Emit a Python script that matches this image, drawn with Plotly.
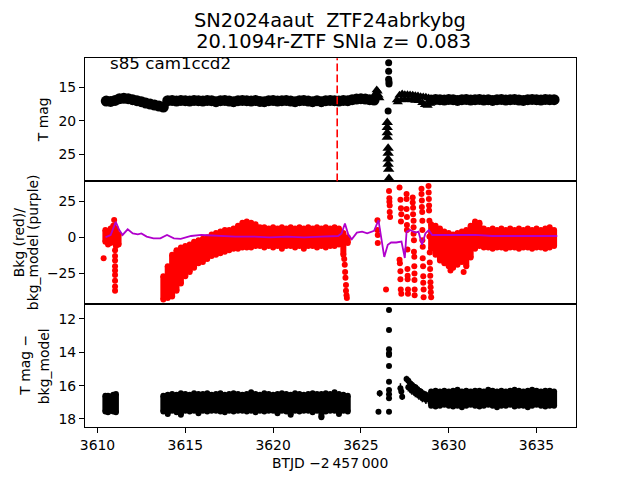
import plotly.graph_objects as go

# ---------------- text ----------------
TITLE_1 = "SN2024aaut  ZTF24abrkybg"
TITLE_2 = " 20.1094r-ZTF SNIa z= 0.083"
FIELD_LABEL = "s85 cam1ccd2"
X_LABEL = "BTJD \u22122\u2009457\u2009000"
Y1_LABEL = "T mag"
Y2_LABEL = ["Bkg (red)/", "bkg_model (purple)"]
Y3_LABEL = ["T mag \u2212", "bkg_model"]
T_REF_LINE = 3623.65

X_TICKS = [3610, 3615, 3620, 3625, 3630, 3635]
Y1_TICKS = [15, 20, 25]
Y2_TICKS = [-25, 0, 25]
Y2_TICKTEXT = ["\u221225", "0", "25"]
Y3_TICKS = [12, 14, 16, 18]

# ---------------- shared time samples ----------------
T_MID = [3613.75, 3614.0, 3614.25, 3614.5, 3614.75, 3615.0, 3615.25, 3615.5, 3615.75, 3616.0,
         3616.25, 3616.5, 3616.75, 3617.0, 3617.25, 3617.5, 3617.75, 3618.0, 3618.25, 3618.5,
         3618.75, 3619.0, 3619.25, 3619.5, 3619.75, 3620.0, 3620.25, 3620.5, 3620.75, 3621.0,
         3621.25, 3621.5, 3621.75, 3622.0, 3622.25, 3622.5, 3622.75, 3623.0, 3623.25, 3623.5,
         3623.75, 3624.0, 3624.25]
T_LATE = [3629.0, 3629.25, 3629.5, 3629.75, 3630.0, 3630.25, 3630.5, 3630.75, 3631.0, 3631.25,
          3631.5, 3631.75, 3632.0, 3632.25, 3632.5, 3632.75, 3633.0, 3633.25, 3633.5, 3633.75,
          3634.0, 3634.25, 3634.5, 3634.75, 3635.0, 3635.25, 3635.5, 3635.75, 3636.0]

# ---------------- panel 1: T mag ----------------
P1_T = [3610.5, 3610.75, 3611.0, 3611.25, 3611.5, 3611.75, 3612.0, 3612.25, 3612.5, 3612.75,
        3613.0, 3613.25, 3613.5, 3613.75, 3614.0, 3614.25, 3614.5, 3614.75, 3615.0, 3615.25,
        3615.5, 3615.75, 3616.0, 3616.25, 3616.5, 3616.75, 3617.0, 3617.25, 3617.5, 3617.75,
        3618.0, 3618.25, 3618.5, 3618.75, 3619.0, 3619.25, 3619.5, 3619.75, 3620.0, 3620.25,
        3620.5, 3620.75, 3621.0, 3621.25, 3621.5, 3621.75, 3622.0, 3622.25, 3622.5, 3622.75,
        3623.0, 3623.25, 3623.5, 3623.75, 3624.0, 3624.25, 3624.5, 3624.75, 3625.0, 3625.25,
        3625.5, 3625.75]
P1_MAG = [17.05, 17.1, 16.95, 16.7, 16.65, 16.7, 16.85, 17.0, 17.15, 17.35,
          17.5, 17.65, 17.8, 17.95, 17.0, 16.95, 17.05, 16.95, 17.0, 17.05,
          16.95, 17.0, 17.05, 16.95, 17.0, 17.15, 17.0, 16.95, 17.05, 17.15,
          17.0, 16.95, 17.0, 17.05, 16.95, 17.1, 17.15, 17.0, 16.95, 17.05,
          17.0, 16.95, 17.05, 17.15, 17.0, 16.95, 17.05, 17.15, 17.0, 17.15,
          17.0, 16.95, 17.0, 17.05, 16.95, 17.0, 16.85, 16.75, 16.7, 16.75,
          16.85, 16.9]
P1_LATE_MAG = [16.9, 16.8, 16.85, 16.9, 16.8, 16.85, 16.95, 16.85, 16.8, 16.9,
               16.85, 16.8, 16.9, 16.85, 16.95, 16.85, 16.8, 16.9, 16.85, 16.8,
               16.9, 16.95, 16.85, 16.8, 16.85, 16.9, 16.8, 16.85, 16.85]
P1_TRI_T = [3625.8, 3625.85, 3625.9, 3625.95, 3626.0, 3626.05,
            3627.05, 3627.2, 3627.35, 3627.5, 3627.65, 3627.8, 3627.95, 3628.1, 3628.25, 3628.4,
            3628.55, 3628.7, 3628.85,
            3627.1, 3627.3, 3627.5, 3627.7, 3627.9, 3628.1, 3628.3, 3628.5, 3628.65, 3628.8, 3628.95]
P1_TRI_MAG = [16.4, 15.9, 15.4, 15.6, 16.2, 16.6,
              16.9, 16.2, 16.0, 16.1, 16.1, 16.15, 16.2, 16.25, 16.3, 16.4,
              16.45, 16.5, 16.6,
              17.2, 16.9, 16.8, 16.85, 16.9, 16.95, 17.0, 17.3, 17.6, 17.7, 17.4]
P1_PEAK_T = [3626.58, 3626.58, 3626.58, 3626.6, 3626.6, 3626.55]
P1_PEAK_MAG = [11.35, 12.6, 13.8, 14.2, 14.5, 18.55]
P1_LIM_T = [3626.5, 3626.5, 3626.5, 3626.5, 3626.55, 3626.55, 3626.55, 3626.55, 3626.58, 3626.6]
P1_LIM_MAG = [20.25, 21.0, 21.8, 22.45, 24.1, 24.85, 25.7, 26.5, 27.25, 28.6]

# ---------------- panel 2: background ----------------
P2_EARLY_T = [3610.45, 3610.6, 3610.75, 3610.9, 3611.05, 3611.2]
P2_EARLY_HI = [5, 4, 6, 8, 6, 2]
P2_EARLY_LO = [-3, -5, -4, -3, -6, -5]
P2_MID_HI = [-27, -20, -12, -9, -7, -6, -5, -3, -2, -1,
             0, 2, 3, 4, 5, 5, 6, 8, 10, 11,
             10, 9, 7, 7, 6, 7, 6, 7, 6, 7,
             6, 7, 6, 7, 6, 7, 6, 7, 6, 7,
             6, 3, 0]
P2_MID_LO = [-43, -42, -41, -37, -32, -27, -24, -21, -18, -17,
             -15, -13, -12, -11, -10, -9, -8, -8, -7, -7,
             -7, -6, -6, -7, -6, -7, -6, -8, -6, -6,
             -7, -6, -8, -6, -6, -7, -6, -7, -6, -6,
             -5, -12, -4]
P2_LATE_HI = [9, 8, 6, 4, 3, 2, 3, 4, 5, 8,
              11, 10, 6, 5, 6, 5, 6, 5, 6, 5,
              6, 5, 6, 5, 6, 5, 6, 7, 5]
P2_LATE_LO = [-8, -12, -16, -18, -20, -21, -19, -17, -20, -14,
              -8, -6, -7, -7, -8, -7, -7, -8, -7, -7,
              -8, -7, -7, -8, -7, -7, -8, -7, -6]
P2_PT_T = [3610.35, 3610.95, 3611.0, 3611.0, 3611.0, 3611.0, 3611.0, 3611.0, 3611.0, 3611.0, 3611.0,
           3624.05, 3624.08, 3624.1, 3624.12, 3624.15, 3624.15, 3624.18, 3624.2,
           3630.1, 3630.85,
           3625.94, 3625.94, 3625.96, 3625.96, 3626.43,
           3626.6, 3626.62, 3626.62, 3626.64, 3626.64, 3626.66,
           3627.2, 3627.25, 3627.28, 3627.3, 3627.28, 3627.2, 3627.22, 3627.25, 3627.25, 3627.27, 3627.3,
           3627.6, 3627.6, 3627.6, 3627.62, 3627.62, 3627.62, 3627.65, 3627.65, 3627.66, 3627.66, 3627.68, 3627.68,
           3627.95, 3627.95, 3627.97, 3627.97, 3628.0, 3628.0, 3628.0, 3628.02, 3628.02, 3628.04, 3628.04,
           3628.05, 3628.05, 3628.06, 3628.06,
           3628.45, 3628.45, 3628.47, 3628.47, 3628.49, 3628.5, 3628.5, 3628.5, 3628.52, 3628.52, 3628.54,
           3628.55, 3628.55, 3628.57, 3628.57,
           3628.85, 3628.86, 3628.87, 3628.88, 3628.88, 3628.9, 3628.9, 3628.92, 3628.92, 3628.94, 3628.95,
           3628.96, 3628.97, 3628.98, 3629.0]
P2_PT_V = [-14.5, 12, -9, -13, -16, -20, -23, -26, -30, -34, -37,
           -15, -19, -24, -28, -33, -37, -40, -42,
           -23, -24,
           11.8, 5.0, 1.5, -4.0, -36.0,
           32.0, 27.0, 24.5, 22.0, 17.5, 14.0,
           34.5, 26.0, 20.0, 16.0, 11.0, -15.5, -18.0, -23.5, -29.0, -36.0, -39.0,
           30.0, 26.5, 19.5, 14.0, 8.5, 5.0, -8.5, -22.0, -26.5, -29.0, -36.0, -39.0,
           27.5, 24.0, 20.5, 16.0, 11.5, 7.0, 2.5, -2.0, -10.0, -13.5, -20.0,
           -25.0, -29.5, -36.0, -40.0,
           33.5, 30.0, 25.5, 21.0, 17.5, 11.5, 5.0, -2.0, -6.5, -14.5, -20.0,
           -27.0, -31.5, -36.0, -41.5,
           35.5, 31.0, 26.5, 22.0, 18.5, 11.5, 0.5, -10.5, -17.5, -22.0, -26.5,
           -31.0, -34.5, -38.0, -41.5]
P2_MODEL_T = [3610.46, 3610.75, 3611.04, 3611.24, 3611.43, 3611.72, 3612.01, 3612.3, 3612.5, 3612.8,
              3613.19, 3613.58, 3613.96, 3614.35, 3614.74, 3615.33, 3615.91, 3616.88, 3617.86, 3618.83,
              3619.81, 3620.78, 3621.76, 3622.73, 3623.7, 3623.9, 3624.09, 3624.29, 3624.48, 3624.77,
              3625.07, 3625.36, 3625.75, 3626.0, 3626.14, 3626.33, 3626.53, 3626.72, 3627.01, 3627.31,
              3627.5, 3627.6, 3627.8, 3628.09, 3628.28, 3628.48, 3628.67, 3628.87, 3629.06, 3629.55,
              3630.52, 3631.5, 3632.47, 3633.45, 3634.43, 3635.4, 3636.18]
P2_MODEL_V = [0.0, 1.6, 10.7, 5.0, 1.6, 5.5, 2.7, 2.0, 2.7, 0.5,
              -0.7, -0.7, 1.6, -0.7, -1.1, 0.9, 1.6, 0.9, 0.5, 0.5,
              0.0, 0.5, 0.0, 0.5, 0.9, 2.7, 9.5, 1.6, -1.4, 3.2,
              3.9, 2.7, 4.5, 11.8, 0.5, -13.6, -5.2, -3.6, -3.6, -3.0,
              -14.3, 3.9, 5.0, 3.2, 3.9, -5.2, 2.7, 5.0, 1.6, 1.6,
              1.1, 1.6, 0.9, 1.1, 0.9, 0.9, 0.9]

# ---------------- panel 3: T mag - bkg_model ----------------
P3_EARLY_T = [3610.45, 3610.6, 3610.75, 3610.9, 3611.05]
P3_EARLY_LO = [16.6, 16.6, 16.65, 16.55, 16.5]
P3_EARLY_HI = [17.55, 17.6, 17.5, 17.55, 17.6]
P3_MID_LO = [16.6, 16.55, 16.5, 16.55, 16.45, 16.5, 16.55, 16.45, 16.5, 16.5,
             16.45, 16.55, 16.5, 16.45, 16.55, 16.5, 16.45, 16.5, 16.55, 16.5,
             16.4, 16.5, 16.55, 16.45, 16.5, 16.55, 16.5, 16.45, 16.5, 16.55,
             16.45, 16.5, 16.55, 16.5, 16.45, 16.5, 16.5, 16.45, 16.5, 16.4,
             16.5, 16.55, 16.6]
P3_MID_HI = [17.55, 17.7, 17.5, 17.6, 17.75, 17.5, 17.55, 17.5, 17.65, 17.5,
             17.55, 17.5, 17.5, 17.55, 17.6, 17.5, 17.55, 17.5, 17.5, 17.55,
             17.5, 17.6, 17.5, 17.55, 17.5, 17.5, 17.65, 17.5, 17.55, 17.75,
             17.5, 17.55, 17.5, 17.5, 17.6, 17.5, 17.9, 17.55, 17.5, 17.5,
             17.7, 17.5, 17.55]
P3_LATE_LO = [16.35, 16.3, 16.35, 16.3, 16.35, 16.3, 16.25, 16.35, 16.3, 16.35,
              16.3, 16.3, 16.35, 16.25, 16.3, 16.35, 16.3, 16.35, 16.3, 16.25,
              16.3, 16.35, 16.3, 16.25, 16.3, 16.35, 16.3, 16.3, 16.35]
P3_LATE_HI = [17.2, 17.25, 17.2, 17.15, 17.2, 17.25, 17.2, 17.3, 17.2, 17.15,
              17.2, 17.25, 17.2, 17.15, 17.2, 17.3, 17.2, 17.2, 17.15, 17.25,
              17.2, 17.2, 17.3, 17.2, 17.15, 17.2, 17.25, 17.2, 17.2]
P3_PT_T = [3626.07, 3626.0,
           3626.6, 3626.6, 3626.6, 3626.6, 3626.6, 3626.6, 3626.6, 3626.6, 3626.6, 3626.6, 3626.6,
           3627.25, 3627.3, 3627.35,
           3627.6, 3627.7, 3627.8, 3627.9, 3628.0, 3628.1, 3628.2, 3628.3, 3628.4, 3628.5, 3628.6, 3628.7,
           3627.7, 3627.9, 3628.1, 3628.3, 3628.5, 3628.7, 3628.85]
P3_PT_V = [16.46, 17.56,
           11.46, 12.66, 13.82, 14.06, 14.16, 14.82, 15.76, 16.26, 16.52, 16.76, 17.56,
           16.16, 16.35, 16.66,
           15.6, 15.7, 15.85, 15.95, 16.05, 16.1, 16.2, 16.3, 16.35, 16.45, 16.5, 16.55,
           16.1, 16.3, 16.45, 16.6, 16.75, 16.85, 16.8]
P3_PT_ERR = [0.2, 0.1,
             0.05, 0.05, 0.05, 0.05, 0.05, 0.08, 0.1, 0.1, 0.12, 0.12, 0.12,
             0.3, 0.25, 0.2,
             0.2, 0.2, 0.2, 0.2, 0.2, 0.2, 0.2, 0.2, 0.2, 0.2, 0.2, 0.2,
             0.25, 0.25, 0.25, 0.25, 0.25, 0.25, 0.3]

# ---------------- figure ----------------
FONT = "DejaVu Sans"
BLACK = "#000000"
RED = "#ff0000"
PURPLE = "#b000cc"

fig = go.Figure()


def band(t, lo, hi, color, size, xa, ya):
    n = len(t)
    fig.add_trace(go.Scatter(
        x=t, y=lo, mode="markers", xaxis=xa, yaxis=ya,
        marker=dict(size=size, color=color, line=dict(width=0)),
        error_y=dict(type="data", symmetric=False,
                     array=[h - l for h, l in zip(hi, lo)], arrayminus=[0] * n,
                     thickness=size, width=0, color=color),
        showlegend=False, hoverinfo="skip"))
    fig.add_trace(go.Scatter(
        x=t, y=hi, mode="markers", xaxis=xa, yaxis=ya,
        marker=dict(size=size, color=color, line=dict(width=0)),
        showlegend=False, hoverinfo="skip"))


# panel 1
fig.add_trace(go.Scatter(x=P1_T, y=P1_MAG, mode="markers", xaxis="x", yaxis="y",
                         marker=dict(size=11, color=BLACK), showlegend=False))
fig.add_trace(go.Scatter(x=T_LATE, y=P1_LATE_MAG, mode="markers", xaxis="x", yaxis="y",
                         marker=dict(size=11, color=BLACK), showlegend=False))
fig.add_trace(go.Scatter(x=P1_TRI_T, y=P1_TRI_MAG, mode="markers", xaxis="x", yaxis="y",
                         marker=dict(size=9, color=BLACK, symbol="triangle-up"), showlegend=False))
fig.add_trace(go.Scatter(x=P1_PEAK_T, y=P1_PEAK_MAG, mode="markers", xaxis="x", yaxis="y",
                         marker=dict(size=7, color=BLACK), showlegend=False))
fig.add_trace(go.Scatter(x=P1_LIM_T, y=P1_LIM_MAG, mode="markers", xaxis="x", yaxis="y",
                         marker=dict(size=10, color=BLACK, symbol="triangle-up"), showlegend=False))

# panel 2
band(P2_EARLY_T, P2_EARLY_LO, P2_EARLY_HI, RED, 6, "x2", "y2")
band(T_MID, P2_MID_LO, P2_MID_HI, RED, 6, "x2", "y2")
band(T_LATE, P2_LATE_LO, P2_LATE_HI, RED, 6, "x2", "y2")
fig.add_trace(go.Scatter(x=P2_PT_T, y=P2_PT_V, mode="markers", xaxis="x2", yaxis="y2",
                         marker=dict(size=6, color=RED), showlegend=False))
fig.add_trace(go.Scatter(x=P2_MODEL_T, y=P2_MODEL_V, mode="lines", xaxis="x2", yaxis="y2",
                         line=dict(color=PURPLE, width=1.8), showlegend=False))

# panel 3
band(P3_EARLY_T, P3_EARLY_LO, P3_EARLY_HI, BLACK, 6, "x3", "y3")
band(T_MID, P3_MID_LO, P3_MID_HI, BLACK, 6, "x3", "y3")
band(T_LATE, P3_LATE_LO, P3_LATE_HI, BLACK, 6, "x3", "y3")
fig.add_trace(go.Scatter(x=P3_PT_T, y=P3_PT_V, mode="markers", xaxis="x3", yaxis="y3",
                         marker=dict(size=6, color=BLACK),
                         error_y=dict(type="data", array=P3_PT_ERR, thickness=1.5, width=0, color=BLACK),
                         showlegend=False))

XRANGE = [3609.29, 3637.24]
XDOM = [0.126, 0.899]
axis_common = dict(showline=True, mirror=True, linecolor=BLACK, linewidth=1, showgrid=False,
                   zeroline=False, tickfont=dict(family=FONT, size=13.9, color=BLACK),
                   ticks="outside", ticklen=5, tickwidth=1, tickcolor=BLACK)

fig.update_layout(
    width=640, height=480, autosize=False,
    margin=dict(l=0, r=0, t=0, b=0),
    paper_bgcolor="white", plot_bgcolor="white",
    font=dict(family=FONT, color=BLACK),
    xaxis=dict(domain=XDOM, range=XRANGE, anchor="y", showticklabels=False,
               showline=True, mirror=True, linecolor=BLACK, linewidth=1, showgrid=False, zeroline=False,
               ticks=""),
    xaxis2=dict(domain=XDOM, range=XRANGE, anchor="y2", showticklabels=False,
                showline=True, mirror=True, linecolor=BLACK, linewidth=1, showgrid=False, zeroline=False,
                ticks=""),
    xaxis3=dict(domain=XDOM, range=XRANGE, anchor="y3", tickvals=X_TICKS, **axis_common),
    yaxis=dict(domain=[0.6223, 0.8785], range=[29.03, 10.67], anchor="x", tickvals=Y1_TICKS,
               **axis_common),
    yaxis2=dict(domain=[0.3667, 0.6223], range=[-46.1, 38.7], anchor="x2", tickvals=Y2_TICKS,
                ticktext=Y2_TICKTEXT, **axis_common),
    yaxis3=dict(domain=[0.1098, 0.3667], range=[18.5, 11.1], anchor="x3", tickvals=Y3_TICKS,
                **axis_common),
)

fig.add_shape(type="line", xref="x", yref="y domain", x0=T_REF_LINE, x1=T_REF_LINE, y0=0, y1=1,
              line=dict(color=RED, width=1.6, dash="7.7px,3.3px"))


def ann(text, x, y, size, xanchor="center", yanchor="middle", angle=0):
    fig.add_annotation(text=text, x=x, y=y, xref="paper", yref="paper", showarrow=False,
                       xanchor=xanchor, yanchor=yanchor, textangle=angle,
                       font=dict(family=FONT, size=size, color=BLACK))


ann(TITLE_1, 328 / 640, 1 - 20.3 / 480, 19.4)
ann(TITLE_2, 328 / 640, 1 - 41.3 / 480, 19.4)
ann(FIELD_LABEL, 104 / 640, 1 - 63.2 / 480, 16.7, xanchor="left")
ann(X_LABEL, 328 / 640, 1 - 463.2 / 480, 13.9)
ann(Y1_LABEL, 38.5 / 640, 1 - 120 / 480, 13.9, angle=-90)
ann(Y2_LABEL[0], 13.7 / 640, 1 - 242.6 / 480, 13.9, angle=-90)
ann(Y2_LABEL[1], 27.8 / 640, 1 - 242.6 / 480, 13.9, angle=-90)
ann(Y3_LABEL[0], 20.2 / 640, 1 - 365.7 / 480, 13.9, angle=-90)
ann(Y3_LABEL[1], 38.8 / 640, 1 - 365.7 / 480, 13.9, angle=-90)

fig.write_html("out.html", config={"displayModeBar": False},
               post_script="document.body.style.margin='0';document.body.style.padding='0';")
